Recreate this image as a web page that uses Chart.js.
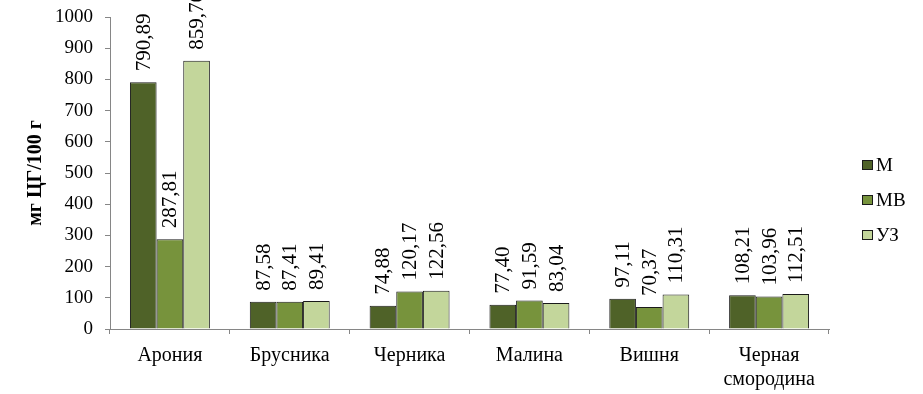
<!DOCTYPE html>
<html>
<head>
<meta charset="utf-8">
<script src="https://cdn.jsdelivr.net/npm/chart.js@4/dist/chart.umd.min.js"></script>
<style>
  html, body { margin: 0; padding: 0; background: #fff; }
  #wrap { width: 923px; height: 394px; position: relative; }
</style>
</head>
<body>
<div id="wrap"><canvas id="c"></canvas></div>
<script>
const categories = ['Арония', 'Брусника', 'Черника', 'Малина', 'Вишня', ['Черная', 'смородина']];
const seriesNames = ['М', 'МВ', 'УЗ'];
const valuesM  = [790.89, 87.58, 74.88, 77.40, 97.11, 108.21];
const valuesMV = [287.81, 87.41, 120.17, 91.59, 70.37, 103.96];
const valuesUZ = [859.76, 89.41, 122.56, 83.04, 110.31, 112.51];
const yTicks = [0, 100, 200, 300, 400, 500, 600, 700, 800, 900, 1000];
const yTitle = 'мг ЦГ/100 г';

const colors = ['#4F6228', '#77933C', '#C3D69B'];
const FONT = "'Liberation Serif', 'Times New Roman', serif";
const AXIS = '#868686';

const valueLabels = {
  id: 'valueLabels',
  afterDatasetsDraw(chart) {
    const ctx = chart.ctx;
    ctx.save();
    ctx.font = '21px ' + FONT;
    ctx.fillStyle = '#000';
    ctx.textAlign = 'left';
    ctx.textBaseline = 'middle';
    chart.data.datasets.forEach((ds, di) => {
      const meta = chart.getDatasetMeta(di);
      meta.data.forEach((bar, i) => {
        const txt = ds.data[i].toFixed(2).replace('.', ',');
        ctx.save();
        ctx.translate(bar.x + 1, bar.y - 11);
        ctx.rotate(-Math.PI / 2);
        ctx.fillText(txt, 0, 0);
        ctx.restore();
      });
    });
    ctx.restore();
  }
};

const customLegend = {
  id: 'customLegend',
  afterDraw(chart) {
    const ctx = chart.ctx;
    ctx.save();
    ctx.font = '19px ' + FONT;
    ctx.textBaseline = 'middle';
    ctx.textAlign = 'left';
    const x0 = 862, y0 = 165, step = 35;
    chart.data.datasets.forEach((ds, i) => {
      const y = y0 + i * step;
      ctx.fillStyle = ds.backgroundColor;
      ctx.fillRect(x0, y - 5, 11, 10);
      ctx.strokeStyle = '#1a1a1a';
      ctx.lineWidth = 1;
      ctx.strokeRect(x0 + 0.5, y - 4.5, 10, 9);
      ctx.fillStyle = '#000';
      ctx.fillText(ds.label, x0 + 14, y + 1);
    });
    ctx.restore();
  }
};

new Chart(document.getElementById('c'), {
  type: 'bar',
  data: {
    labels: categories,
    datasets: [
      { label: seriesNames[0], data: valuesM, backgroundColor: colors[0] },
      { label: seriesNames[1], data: valuesMV, backgroundColor: colors[1] },
      { label: seriesNames[2], data: valuesUZ, backgroundColor: colors[2] }
    ].map(d => Object.assign(d, { borderColor: '#1a1a1a', borderWidth: 1, categoryPercentage: 0.667, barPercentage: 1.0 }))
  },
  options: {
    responsive: true,
    maintainAspectRatio: false,
    animation: false,
    devicePixelRatio: 1,
    layout: { padding: { left: 0, right: 94, top: 17, bottom: 0 } },
    plugins: { legend: { display: false }, tooltip: { enabled: false } },
    scales: {
      x: {
        grid: { display: true, drawOnChartArea: false, drawTicks: true, tickLength: 5, color: AXIS, offset: true },
        border: { display: true, color: AXIS, width: 1 },
        ticks: { color: '#000', font: { family: FONT, size: 20 }, padding: 10, maxRotation: 0, autoSkip: false },
        afterFit(scale) { scale.height = 65; }
      },
      y: {
        min: 0, max: 1000,
        afterBuildTicks(scale) { scale.ticks = yTicks.map(v => ({ value: v })); },
        grid: { display: true, drawOnChartArea: false, drawTicks: true, tickLength: 5, color: AXIS },
        border: { display: true, color: AXIS, width: 1 },
        ticks: { color: '#000', font: { family: FONT, size: 19 }, padding: 12, callback: v => String(v) },
        title: { display: true, text: yTitle, color: '#000', font: { family: FONT, size: 20, weight: 'bold' }, padding: { top: 24, bottom: 0 } },
        afterFit(scale) { scale.width = 110; scale.paddingTop = 0; scale.paddingBottom = 0; }
      }
    }
  },
  plugins: [valueLabels, customLegend]
});
</script>
</body>
</html>
